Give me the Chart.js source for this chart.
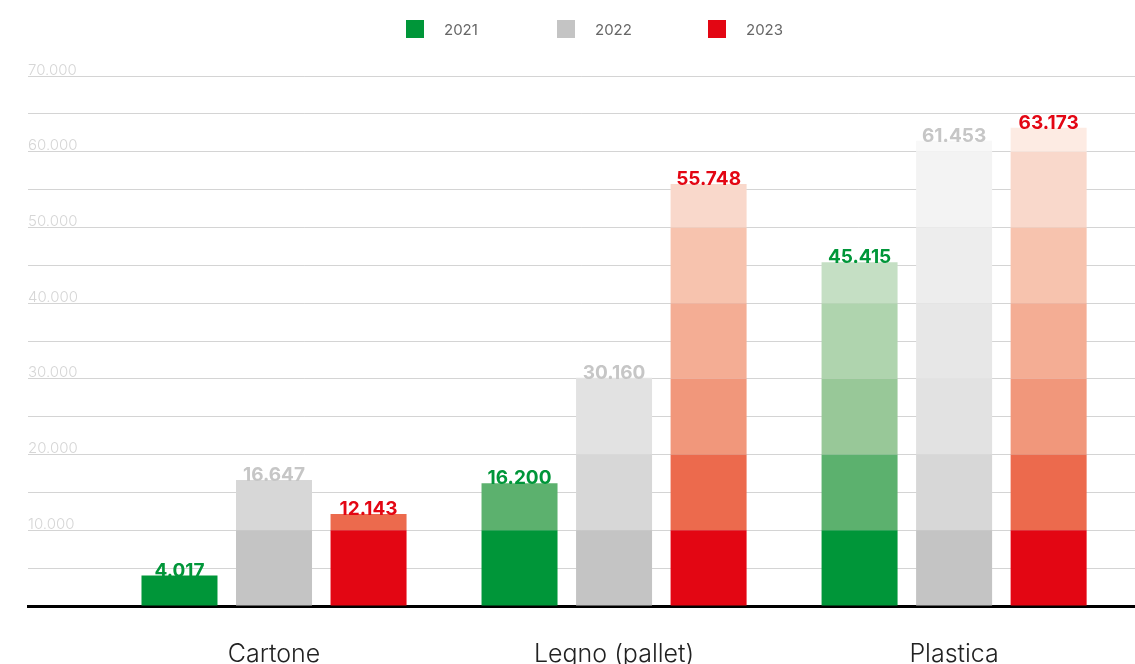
<!DOCTYPE html>
<html>
<head>
<meta charset="utf-8">
<script src="https://cdn.jsdelivr.net/npm/chart.js@4.4.1/dist/chart.umd.min.js"></script>
<style>
  html, body { margin: 0; padding: 0; background: #fff; overflow: hidden; }
  #wrap { position: relative; width: 1135px; height: 702px; }
  #legend { position: absolute; top: 20px; left: 406px; display: flex; font: 15px Inter, sans-serif; color: #666; }
  #legend .item { width: 151px; display: flex; align-items: center; height: 18px; }
  #legend .box { width: 18px; height: 18px; margin-right: 20px; }
</style>
</head>
<body>
<div id="wrap">
  <div id="legend"></div>
  <canvas id="chart"></canvas>
</div>
<script>
const categories = ['Cartone', 'Legno (pallet)', 'Plastica'];
const years = ['2021', '2022', '2023'];
const values2021 = [4017, 16200, 45415];
const values2022 = [16647, 30160, 61453];
const values2023 = [12143, 55748, 63173];
const yearValues = [values2021, values2022, values2023];

// the bars get lighter every 10.000
const bandEdges = [0, 10000, 20000, 30000, 40000, 50000, 60000, 70000];
const shades2021 = ['#009639', '#5cb16e', '#98c898', '#afd4ae', '#c5dfc4', '#d8ead7', '#e8f2e7'];
const shades2022 = ['#c4c4c4', '#d7d7d7', '#e2e2e2', '#e7e7e7', '#ededed', '#f3f3f3', '#f8f8f8'];
const shades2023 = ['#e30613', '#ec6a4d', '#f1977b', '#f4ad94', '#f7c3ae', '#f9d8cb', '#fdebe3'];
const yearShades = [shades2021, shades2022, shades2023];
const labelColors = ['#009639', '#c6c6c6', '#e30613'];

const fmt = (v) => String(v).replace(/\B(?=(\d{3})+(?!\d))/g, '.');

// legend in html, so the gap box -> text can be like the original
const legendEl = document.getElementById('legend');
years.forEach((year, k) => {
  const item = document.createElement('div');
  item.className = 'item';
  const box = document.createElement('span');
  box.className = 'box';
  box.style.background = yearShades[k][0];
  item.appendChild(box);
  item.appendChild(document.createTextNode(year));
  legendEl.appendChild(item);
});

const datasets = [];
years.forEach((year, k) => {
  for (let b = 0; b < bandEdges.length - 1; b++) {
    const lo = bandEdges[b];
    const hi = bandEdges[b + 1];
    datasets.push({
      label: year,
      stack: year,
      backgroundColor: yearShades[k][b],
      borderWidth: 0,
      data: yearValues[k].map((v, j) => ({ x: j, y: Math.max(0, Math.min(v, hi) - lo) }))
    });
  }
});

const valueLabels = {
  id: 'valueLabels',
  afterDraw(chart) {
    const ctx = chart.ctx;
    const yScale = chart.scales.y;
    ctx.save();
    ctx.font = '700 19px Inter, sans-serif';
    ctx.textAlign = 'center';
    ctx.textBaseline = 'alphabetic';
    years.forEach((year, k) => {
      const meta = chart.getDatasetMeta(k * (bandEdges.length - 1));
      meta.data.forEach((bar, j) => {
        const v = yearValues[k][j];
        ctx.fillStyle = labelColors[k];
        ctx.fillText(fmt(v), bar.x, yScale.getPixelForValue(v) + 1);
      });
    });
    ctx.restore();
  }
};

new Chart(document.getElementById('chart'), {
  type: 'bar',
  data: { datasets: datasets },
  options: {
    responsive: true,
    maintainAspectRatio: false,
    animation: false,
    categoryPercentage: 0.834,
    barPercentage: 0.804,
    layout: { padding: { left: 28, top: 76, right: 0, bottom: 0 } },
    plugins: {
      legend: { display: false },
      tooltip: { enabled: false }
    },
    scales: {
      x: {
        type: 'linear',
        min: -0.7235,
        max: 2.532,
        offset: false,
        z: 1,
        grid: { display: false, drawTicks: false },
        border: { color: '#000', width: 3 },
        ticks: {
          stepSize: 1,
          includeBounds: false,
          autoSkip: false,
          maxRotation: 0,
          padding: 33,
          color: '#222',
          font: { family: 'Inter', size: 25, weight: 300 },
          callback: (v) => categories[v] ?? ''
        }
      },
      y: {
        stacked: true,
        min: 0,
        max: 70000,
        z: 1,
        border: { display: false },
        grid: { color: 'rgba(0,0,0,0.17)', drawTicks: false },
        ticks: {
          stepSize: 5000,
          autoSkip: false,
          mirror: true,
          padding: 0,
          labelOffset: -6,
          color: '#d6d6d6',
          font: { family: 'Inter', size: 15, weight: 300 },
          callback: (v) => (v > 0 && v % 10000 === 0) ? fmt(v) : ''
        }
      }
    }
  },
  plugins: [valueLabels]
});
</script>
</body>
</html>
